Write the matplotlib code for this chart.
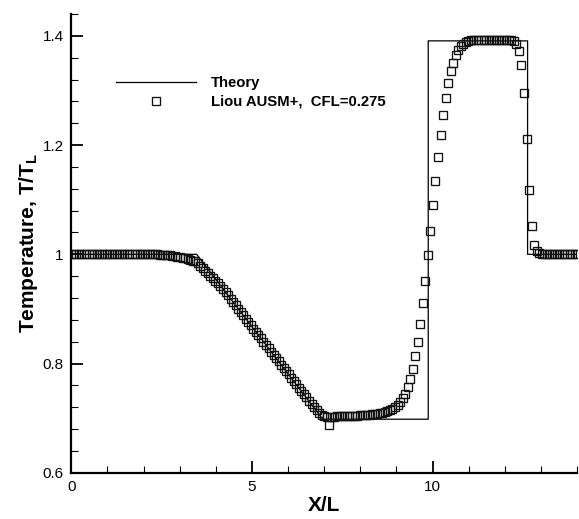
import matplotlib
matplotlib.use("Agg")
import matplotlib.pyplot as plt
from matplotlib.ticker import FixedLocator, MultipleLocator, FixedFormatter

plt.rcParams['font.family'] = ['Liberation Sans', 'DejaVu Sans']
plt.rcParams['mathtext.fontset'] = 'custom'
plt.rcParams['mathtext.rm'] = 'Liberation Sans'
plt.rcParams['mathtext.bf'] = 'Liberation Sans:bold'

# ---- data ----
theory_x = [0.0, 3.47, 6.96, 9.88, 9.88, 12.63, 12.63, 14.0]
theory_T = [1.0, 1.0, 0.698, 0.698, 1.391, 1.391, 1.0, 1.0]

ausm_x = [
    0.00, 0.07, 0.14, 0.21, 0.28, 0.35, 0.42, 0.49, 0.56, 0.63,
    0.70, 0.77, 0.84, 0.91, 0.98, 1.05, 1.12, 1.19, 1.26, 1.33,
    1.40, 1.47, 1.54, 1.61, 1.68, 1.75, 1.82, 1.89, 1.96, 2.03,
    2.10, 2.17, 2.24, 2.31, 2.38, 2.45, 2.52, 2.59, 2.66, 2.73,
    2.80, 2.87, 2.94, 3.01, 3.08, 3.15, 3.22, 3.29, 3.36, 3.43,
    3.50, 3.57, 3.64, 3.71, 3.78, 3.85, 3.92, 3.99, 4.06, 4.13,
    4.20, 4.27, 4.34, 4.41, 4.48, 4.55, 4.62, 4.69, 4.76, 4.83,
    4.90, 4.97, 5.04, 5.11, 5.18, 5.25, 5.32, 5.39, 5.46, 5.53,
    5.60, 5.67, 5.74, 5.81, 5.88, 5.95, 6.02, 6.09, 6.16, 6.23,
    6.30, 6.37, 6.44, 6.51, 6.58, 6.65, 6.72, 6.79, 6.86, 6.93,
    7.00, 7.07, 7.14, 7.21, 7.28, 7.35, 7.42, 7.49, 7.56, 7.63,
    7.70, 7.77, 7.84, 7.91, 7.98, 8.05, 8.12, 8.19, 8.26, 8.33,
    8.40, 8.47, 8.54, 8.61, 8.68, 8.75, 8.82, 8.89, 8.96, 9.03,
    9.10, 9.17, 9.24, 9.31, 9.38, 9.45, 9.52, 9.59, 9.66, 9.73,
    9.80, 9.87, 9.94, 10.01, 10.08, 10.15, 10.22, 10.29, 10.36, 10.43,
    10.50, 10.57, 10.64, 10.71, 10.78, 10.85, 10.92, 10.99, 11.06, 11.13,
    11.20, 11.27, 11.34, 11.41, 11.48, 11.55, 11.62, 11.69, 11.76, 11.83,
    11.90, 11.97, 12.04, 12.11, 12.18, 12.25, 12.32, 12.39, 12.46, 12.53,
    12.60, 12.67, 12.74, 12.81, 12.88, 12.95, 13.02, 13.09, 13.16, 13.23,
    13.30, 13.37, 13.44, 13.51, 13.58, 13.65, 13.72, 13.79, 13.86, 13.93,
    14.00,
]
ausm_T = [
    1.000, 1.000, 1.000, 1.000, 1.000, 1.000, 1.000, 1.000, 1.000, 1.000,
    1.000, 1.000, 1.000, 1.000, 1.000, 1.000, 1.000, 1.000, 1.000, 1.000,
    1.000, 1.000, 1.000, 1.000, 1.000, 1.000, 1.000, 1.000, 1.000, 1.000,
    1.000, 1.000, 1.000, 1.000, 1.000, 0.999, 0.999, 0.9985, 0.998, 0.998,
    0.997, 0.997, 0.996, 0.995, 0.994, 0.993, 0.9915, 0.990, 0.988, 0.987,
    0.984, 0.979, 0.9745, 0.970, 0.9655, 0.961, 0.9565, 0.952, 0.947, 0.942,
    0.937, 0.931, 0.925, 0.919, 0.913, 0.907, 0.900, 0.894, 0.888, 0.882,
    0.876, 0.870, 0.864, 0.858, 0.852, 0.846, 0.840, 0.834, 0.828, 0.822,
    0.816, 0.810, 0.804, 0.798, 0.792, 0.786, 0.780, 0.774, 0.768, 0.762,
    0.756, 0.750, 0.744, 0.738, 0.732, 0.726, 0.720, 0.715, 0.710, 0.706,
    0.703, 0.702, 0.688, 0.702, 0.702, 0.703, 0.703, 0.703, 0.703, 0.704,
    0.704, 0.704, 0.704, 0.704, 0.705, 0.705, 0.705, 0.706, 0.706, 0.707,
    0.707, 0.708, 0.709, 0.710, 0.711, 0.713, 0.715, 0.717, 0.720, 0.724,
    0.729, 0.736, 0.745, 0.757, 0.772, 0.790, 0.813, 0.840, 0.873, 0.910,
    0.952, 0.999, 1.043, 1.090, 1.135, 1.179, 1.219, 1.255, 1.287, 1.313,
    1.335, 1.351, 1.365, 1.374, 1.381, 1.386, 1.389, 1.391, 1.392, 1.392,
    1.392, 1.392, 1.392, 1.392, 1.392, 1.392, 1.392, 1.392, 1.392, 1.392,
    1.392, 1.392, 1.392, 1.392, 1.392, 1.391, 1.386, 1.372, 1.346, 1.296,
    1.212, 1.117, 1.051, 1.018, 1.007, 1.003, 1.001, 1.000, 1.000, 1.000,
    1.000, 1.000, 1.000, 1.000, 1.000, 1.000, 1.000, 1.000, 1.000, 1.000,
    1.000,
]

x_ticks = [0, 5, 10]
x_tick_labels = ["0", "5", "10"]
y_ticks = [0.6, 0.8, 1.0, 1.2, 1.4]
y_tick_labels = ["0.6", "0.8", "1", "1.2", "1.4"]

theory_label = "Theory"
ausm_label = "Liou AUSM+,  CFL=0.275"

# ---- figure ----
fig = plt.figure(figsize=(5.79, 5.19), dpi=100)
ax = fig.add_axes([0.1231, 0.0892, 0.8736, 0.8836])

ax.plot(theory_x, theory_T, color='black', lw=0.9, label=theory_label, zorder=2)
ax.plot(ausm_x, ausm_T, linestyle='none', marker='s', markersize=5.4,
        markerfacecolor='none', markeredgecolor='#111111', markeredgewidth=0.95,
        label=ausm_label, zorder=3)

ax.set_xlim(0, 14)
ax.set_ylim(0.6, 1.44)

for s in ['top', 'right']:
    ax.spines[s].set_visible(False)
for s in ['left', 'bottom']:
    ax.spines[s].set_linewidth(1.6)

ax.xaxis.set_major_locator(FixedLocator(x_ticks))
ax.xaxis.set_major_formatter(FixedFormatter(x_tick_labels))
ax.xaxis.set_minor_locator(MultipleLocator(1))
ax.yaxis.set_major_locator(FixedLocator(y_ticks))
ax.yaxis.set_major_formatter(FixedFormatter(y_tick_labels))
ax.yaxis.set_minor_locator(MultipleLocator(0.04))

ax.tick_params(which='major', direction='in', length=8.5, width=1.3,
               labelsize=11, pad=5.5)
ax.tick_params(which='minor', direction='in', length=5, width=0.8)
ax.tick_params(axis='x', which='both', top=False)
ax.tick_params(axis='y', which='both', right=False)

ax.set_xlabel("X/L", fontsize=15, fontweight='bold', labelpad=1)
ax.set_ylabel(r"Temperature, T/T$_\mathbf{L}$", fontsize=15, fontweight='bold',
              labelpad=2)

leg = ax.legend(loc='upper left', bbox_to_anchor=(0.0884, 0.8655),
                frameon=False, fontsize=10.7, handlelength=5.4,
                handletextpad=0.96, labelspacing=0.35, borderpad=0,
                borderaxespad=0, numpoints=1)
for t in leg.get_texts():
    t.set_fontweight('bold')

fig.savefig("out.png", dpi=100)
